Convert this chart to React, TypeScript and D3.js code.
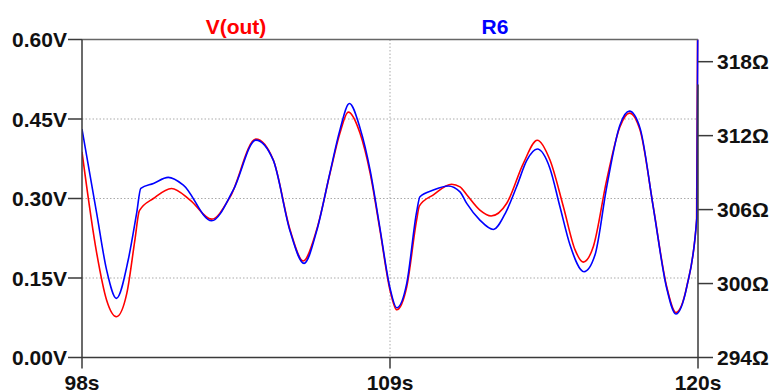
import React from "react";
import * as d3 from "d3";

// Transient traces: V(out) on the left axis, R6 on the right axis
const timeTicks = [98, 109, 120];
const voltTicks = [0, 0.15, 0.3, 0.45, 0.6];
const ohmTicks = [294, 300, 306, 312, 318];

const vOutTime = [
  98.0, 98.525, 98.88, 99.23, 99.6, 99.89, 100.05, 100.55, 101.2, 101.86, 102.63, 103.29, 104.21,
  104.83, 105.43, 105.9, 106.38, 106.86, 107.21, 107.51, 107.93, 108.29, 108.64, 109.0, 109.24,
  109.6, 109.95, 110.05, 110.55, 111.2, 111.5, 111.74, 112.21, 112.61, 113.17, 113.76, 114.26, 114.71,
  115.19, 115.61, 115.9, 116.26, 116.74, 117.21, 117.55, 117.93, 118.4, 118.88, 119.21, 119.6,
  119.95, 120.0,
];
const vOutValues = [
  0.388, 0.197, 0.108, 0.077, 0.121, 0.222, 0.277, 0.3, 0.319, 0.297, 0.261, 0.303, 0.412,
  0.373, 0.241, 0.182, 0.241, 0.348, 0.423, 0.463, 0.423, 0.348, 0.241, 0.127, 0.09,
  0.134, 0.259, 0.286, 0.307, 0.327, 0.322, 0.307, 0.278, 0.267, 0.291, 0.366, 0.41, 0.373,
  0.285, 0.203, 0.18, 0.209, 0.335, 0.435, 0.461, 0.429, 0.285, 0.134, 0.085, 0.134,
  0.259, 0.75,
];

const r6Time = [
  98.0, 98.525, 98.88, 99.23, 99.65, 99.95, 100.1, 100.55, 101.08, 101.62, 102.63, 103.4, 104.21,
  104.83, 105.43, 105.93, 106.38, 106.86, 107.21, 107.55, 107.93, 108.29, 108.64, 109.0, 109.24,
  109.6, 109.95, 110.07, 110.55, 111.08, 111.5, 111.74, 112.21, 112.69, 113.14, 113.52, 113.89, 114.26,
  114.71, 115.07, 115.43, 115.93, 116.32, 116.74, 117.21, 117.55, 117.93, 118.4, 118.88, 119.21,
  119.6, 119.96, 120.0,
];
const r6Values = [
  312.53, 305.69, 301.09, 298.8, 301.91, 305.69, 307.72, 308.12, 308.61, 307.99, 305.09, 307.58, 311.64,
  310.01, 304.26, 301.64, 304.26, 309.04, 312.45, 314.61, 312.61, 309.2, 304.5, 299.64, 298.04,
  300.04, 305.8, 307.04, 307.58, 307.91, 307.44, 306.5, 305.15, 304.39, 305.8, 307.85, 310.01, 310.91,
  309.36, 306.23, 303.12, 300.96, 302.31, 307.85, 312.85, 313.99, 312.61, 306.23, 299.64, 297.53,
  299.74, 305.39, 325.0,
];

const W = 775;
const H = 392;
const left = 82;
const right = 698;
const top = 39.5;
const bottom = 357.5;
const font = "'Liberation Sans', Arial, sans-serif";

export default function App() {
  const x = d3.scaleLinear().domain([98, 120]).range([left, right]);
  const yV = d3.scaleLinear().domain([0, 0.6]).range([bottom, top]);
  const yR = d3.scaleLinear().domain([294, 319.8]).range([bottom, top]);

  const vLine = d3
    .line<number>()
    .x((_, i) => x(vOutTime[i]))
    .y((d) => yV(d))
    .curve(d3.curveMonotoneX);
  const rLine = d3
    .line<number>()
    .x((_, i) => x(r6Time[i]))
    .y((d) => yR(d))
    .curve(d3.curveMonotoneX);

  const fmtV = (v: number) => v.toFixed(2) + "V";
  const frame = "#3a3a3a";

  return (
    <svg
      width={W}
      height={H}
      style={{ position: "absolute", left: 0, top: 0, background: "#fff" }}
      fontFamily={font}
      fontWeight="bold"
    >
      <defs>
        <clipPath id="plot-clip">
          <rect x={left} y={top} width={right - left + 1} height={bottom - top} />
        </clipPath>
      </defs>

      {/* grid */}
      {voltTicks.slice(1, -1).map((v) => (
        <line
          key={"gh" + v}
          x1={left}
          x2={right}
          y1={yV(v)}
          y2={yV(v)}
          stroke="#aaa"
          strokeWidth={1}
          strokeDasharray="1.5,2"
        />
      ))}
      {timeTicks.slice(1, -1).map((t) => (
        <line
          key={"gv" + t}
          x1={x(t)}
          x2={x(t)}
          y1={top}
          y2={bottom}
          stroke="#aaa"
          strokeWidth={1}
          strokeDasharray="1.5,2"
        />
      ))}

      {/* traces */}
      <g clipPath="url(#plot-clip)">
        <path d={vLine(vOutValues) ?? ""} fill="none" stroke="#ff0000" strokeWidth={1.6} />
        <path d={rLine(r6Values) ?? ""} fill="none" stroke="#0000ff" strokeWidth={1.6} />
      </g>

      {/* frame */}
      <line x1={left} x2={right} y1={top} y2={top} stroke="#666" strokeWidth={1.5} />
      <line x1={left} x2={left} y1={top} y2={bottom} stroke={frame} strokeWidth={1.5} />
      <line x1={left} x2={right} y1={bottom} y2={bottom} stroke={frame} strokeWidth={1.5} />
      <line x1={right} x2={right} y1={yV(0.6) + 45} y2={bottom} stroke={frame} strokeWidth={1.5} />

      {/* left axis */}
      {voltTicks.map((v) => (
        <g key={"lv" + v}>
          <line x1={left - 14} x2={left} y1={yV(v)} y2={yV(v)} stroke={frame} strokeWidth={1.5} />
          <text x={left - 15} y={yV(v) + 7.5} textAnchor="end" fontSize={21} fill="#111">
            {fmtV(v)}
          </text>
        </g>
      ))}

      {/* right axis */}
      {ohmTicks.map((r) => (
        <g key={"rv" + r}>
          <line x1={right} x2={right + 15} y1={yR(r)} y2={yR(r)} stroke={frame} strokeWidth={1.5} />
          <text x={right + 19} y={yR(r) + 7.5} textAnchor="start" fontSize={21} fill="#111">
            {r}Ω
          </text>
        </g>
      ))}

      {/* time axis */}
      {timeTicks.map((t) => (
        <g key={"tx" + t}>
          <line x1={x(t)} x2={x(t)} y1={bottom} y2={bottom + 11} stroke={frame} strokeWidth={1.5} />
          <text x={x(t)} y={389.5} textAnchor="middle" fontSize={21} fill="#111">
            {t}s
          </text>
        </g>
      ))}

      {/* trace names */}
      <text x={236} y={33.5} textAnchor="middle" fontSize={21} fill="#ff0000">
        V(out)
      </text>
      <text x={495} y={33.5} textAnchor="middle" fontSize={21} fill="#0000ff">
        R6
      </text>
    </svg>
  );
}
